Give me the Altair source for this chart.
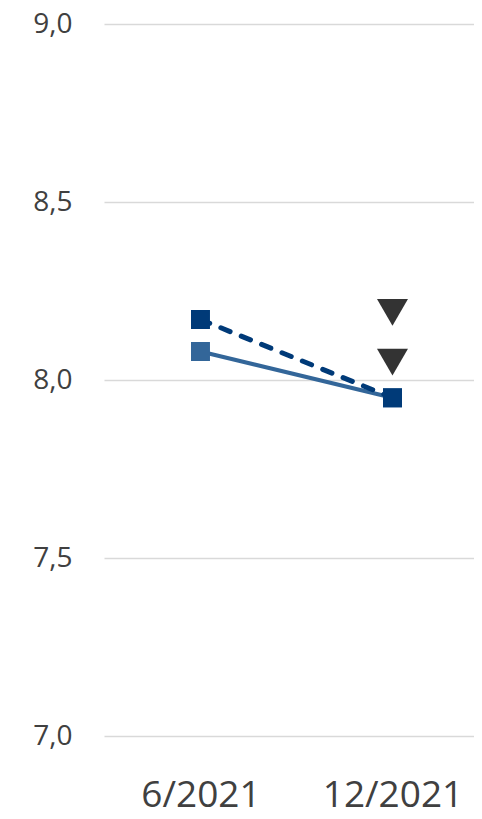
import altair as alt
import pandas as pd

periods = ["6/2021", "12/2021"]
series_a = [8.08, 7.95]   # solid line
series_b = [8.17, 7.95]   # dashed line
marker_periods = ["12/2021", "12/2021"]
marker_values = [8.19, 8.05]

FONT = "Open Sans"
C_SOLID = "#336699"
C_DASH = "#003A78"

df_a = pd.DataFrame({"period": periods, "value": series_a})
df_b = pd.DataFrame({"period": periods, "value": series_b})
df_m = pd.DataFrame({"period": marker_periods, "value": marker_values})

x = alt.X(
    "period:N",
    sort=periods,
    scale=alt.Scale(type="point", padding=0.4635, align=0.542),
    axis=alt.Axis(
        title=None, ticks=False, tickSize=0, domain=False, grid=False,
        labelFont=FONT, labelFontSize=37, labelColor="#404040",
        labelPadding=41, labelAngle=0,
    ),
)
y = alt.Y(
    "value:Q",
    scale=alt.Scale(domain=[7, 9], nice=False, zero=False),
    axis=alt.Axis(
        title=None, values=[7.0, 7.5, 8.0, 8.5, 9.0],
        labelExpr="replace(format(datum.value, '.1f'), '.', ',')",
        ticks=False, tickSize=0, domain=False, grid=True,
        gridColor="#d9d9d9", gridWidth=1.5,
        labelFont=FONT, labelFontSize=28, labelColor="#404040",
        labelPadding=32,
    ),
)

line_a = alt.Chart(df_a).mark_line(color=C_SOLID, strokeWidth=4).encode(x=x, y=y)
pts_a = alt.Chart(df_a).mark_point(
    shape="square", filled=True, size=361, color=C_SOLID, opacity=1
).encode(x=x, y=y)
line_b = alt.Chart(df_b).mark_line(
    color=C_DASH, strokeWidth=5, strokeDash=[10, 12], strokeCap="round"
).encode(x=x, y=y)
pts_b = alt.Chart(df_b).mark_point(
    shape="square", filled=True, size=361, color=C_DASH, opacity=1
).encode(x=x, y=y)
tri = alt.Chart(df_m).mark_point(
    shape="triangle-down", filled=True, size=960, color="#333333", opacity=1
).encode(x=x, y=y)

chart = (
    alt.layer(line_a, pts_a, line_b, pts_b, tri)
    .properties(
        width=370, height=712,
        background="white",
        autosize=alt.AutoSizeParams(type="none"),
        padding={"left": 96, "top": 16, "right": 0, "bottom": 74},
    )
    .configure_view(stroke="transparent", strokeWidth=0)
)

chart.save("out.html", embed_options={"renderer": "svg", "actions": False})
